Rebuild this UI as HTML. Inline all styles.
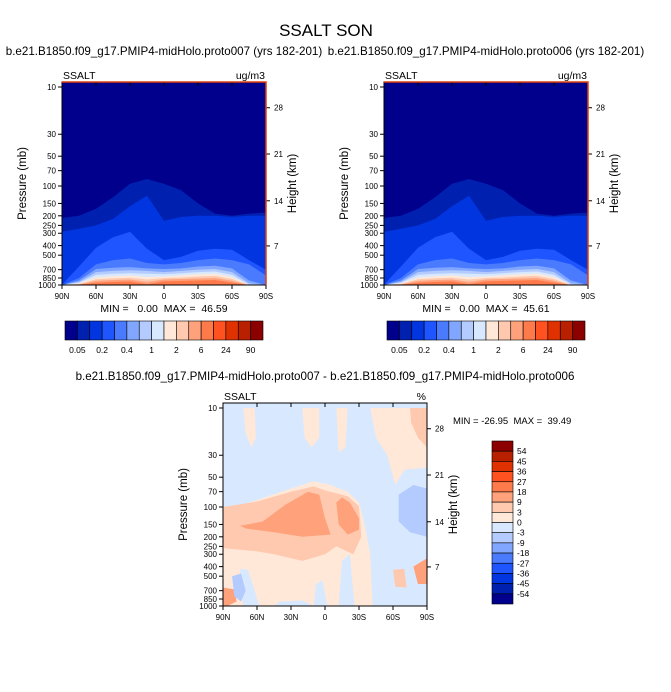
<!DOCTYPE html>
<html><head><meta charset="utf-8"><style>
body{margin:0;background:#fff;}
svg{display:block;font-family:"Liberation Sans",Arial,sans-serif;}
.pre{white-space:pre;}
</style></head><body>
<svg id="c" width="671" height="692" viewBox="0 0 671 692" xmlns="http://www.w3.org/2000/svg">
<text x="326" y="36" font-size="17" text-anchor="middle">SSALT SON</text>
<text x="164" y="55" font-size="11.6" text-anchor="middle">b.e21.B1850.f09_g17.PMIP4-midHolo.proto007 (yrs 182-201)</text>
<text x="486" y="55" font-size="11.6" text-anchor="middle">b.e21.B1850.f09_g17.PMIP4-midHolo.proto006 (yrs 182-201)</text>
<text x="325" y="380" font-size="11.6" text-anchor="middle">b.e21.B1850.f09_g17.PMIP4-midHolo.proto007 - b.e21.B1850.f09_g17.PMIP4-midHolo.proto006</text>
</svg>
<script>
// ---- data ----
const lats = [90,75,60,45,30,15,0,-15,-30,-45,-60,-75,-90];
const latTicks = [90,60,30,0,-30,-60,-90];
const latTickLabels = ["90N","60N","30N","0","30S","60S","90S"];
const pTicks = [10,30,50,70,100,150,200,250,300,400,500,700,850,1000];
const hTickP = [16.2,47.5,141,403];
const hTickLabels = ["28","21","14","7"];
const seqColors = ["#00008c","#0020b0","#0035e0","#1e55ff","#4a7bff","#80a6ff","#b4cbff","#d8e9ff","#ffe8d8","#ffc9b0","#ffa27c","#ff7a4a","#ff5220","#e03200","#b82000","#8c0000"];
const seqLabels = ["0.05","0.2","0.4","1","2","6","24","90"];
// contour level boundaries (pressure, mb) at each latitude, panel 1 (proto007)
const lev1 = [
 [210,200,170,130,95,85,95,110,150,190,200,190,185],
 [290,270,250,215,160,125,225,205,200,200,205,200,200],
 [990,650,420,330,290,430,560,520,450,430,440,560,700],
 [1000,850,620,560,540,600,620,600,560,540,560,620,800],
 [1000,900,690,670,660,680,690,680,650,640,680,900,1000],
 [1000,930,740,720,710,720,740,720,700,690,740,960,1000],
 [1000,950,790,770,760,770,780,760,740,730,790,990,1000],
 [1000,965,840,815,800,830,820,800,780,770,830,1000,1000],
 [1000,975,875,855,845,880,850,840,820,810,870,1000,1000],
 [1000,985,910,890,880,930,880,870,860,850,905,1000,1000],
 [1000,995,950,930,920,980,920,910,900,890,945,1000,1000]];
// panel 2 (proto006)
const lev2 = [
 [210,200,170,130,95,85,95,110,150,190,200,190,185],
 [290,270,250,215,160,125,225,205,200,200,205,200,200],
 [990,650,420,330,290,430,560,520,450,430,440,560,700],
 [1000,850,620,560,540,600,620,600,560,540,560,620,800],
 [1000,900,690,670,660,680,690,680,650,640,680,900,1000],
 [1000,930,740,720,710,720,740,720,700,690,740,960,1000],
 [1000,950,790,770,760,770,780,760,740,730,790,990,1000],
 [1000,965,840,815,800,830,820,800,780,770,830,1000,1000],
 [1000,975,875,855,845,880,850,840,820,810,870,1000,1000],
 [1000,985,910,890,880,930,880,870,860,850,905,1000,1000],
 [1000,995,950,930,920,980,920,910,900,890,945,1000,1000]];
const divColors = ["#8c0000","#b82000","#e03200","#ff5220","#ff7a4a","#ffa27c","#ffc9b0","#ffe8d8","#d8e9ff","#b4cbff","#80a6ff","#4a7bff","#1e55ff","#0035e0","#0020b0","#00008c"];
const divLabels = ["54","45","36","27","18","9","3","0","-3","-9","-18","-27","-36","-45","-54"];
// difference regions: [colorIndex(in divColors), [lat,p,...]]
const diffRegions = [
 [7,[90,110,60,85,30,65,10,55,-5,60,-20,70,-30,90,-35,150,-40,300,-42,1000,90,1000]],
 [7,[72,10,62,10,61,20,65,25,70,18]],
 [7,[20,10,5,10,5,20,12,25,18,20]],
 [7,[-10,10,-20,10,-18,25,-12,28]],
 [7,[-40,10,-90,10,-90,40,-70,42,-62,60,-55,30,-45,20]],
 [6,[-75,10,-90,10,-90,25,-82,20,-76,14]],
 [6,[90,100,60,88,30,70,10,62,0,68,-20,78,-30,98,-32,200,-25,300,-10,250,0,300,20,350,45,300,60,280,90,260]],
 [5,[75,155,55,140,35,95,15,70,5,75,0,130,-5,190,20,200,45,180,70,165]],
 [5,[-10,90,-15,80,-22,90,-30,130,-30,170,-20,190,-12,150]],
 [5,[90,650,80,680,78,900,86,1000,90,1000]],
 [8,[75,420,68,430,62,700,58,1000,72,1000,74,700]],
 [9,[82,500,74,470,70,700,74,900,80,800]],
 [8,[-15,350,-22,300,-26,1000,-12,1000]],
 [8,[8,600,2,550,-2,1000,10,1000]],
 [8,[40,900,20,880,10,1000,45,1000]],
 [9,[-65,75,-78,60,-90,65,-90,200,-75,180,-65,140]],
 [5,[-78,400,-90,330,-90,600,-82,600]],
 [6,[-60,430,-70,420,-72,650,-62,640]]];
const diffStats = "MIN = -26.95  MAX =  39.49";
// ---- drawing ----
const svg = document.getElementById('c');
const NS = "http://www.w3.org/2000/svg";
function mk(tag, attrs, parent){const e=document.createElementNS(NS,tag);for(const k in attrs)e.setAttribute(k,attrs[k]);(parent||svg).appendChild(e);return e;}
function axes(x0, top, y10, y1000){
  return {x: lat => x0 + (90-lat)/180*204, y: p => y10 + (Math.log10(p)-1)/2*(y1000-y10), top: top, bot: y1000, x0: x0, x1: x0+204};
}
function frame(A, g, label, units, red){
  for(let i=0;i<pTicks.length;i++){
    const y=A.y(pTicks[i]);
    const t=mk('line',{x1:A.x0-4,x2:A.x0,y1:y,y2:y,stroke:'#000','stroke-width':1},g);
    
    
    const l=mk('text',{x:A.x0-6,y:y+3,'font-size':8,'text-anchor':'end'},g);
    l.textContent=pTicks[i];
    
    
  }
  for(let i=0;i<latTicks.length;i++){
    const x=A.x(latTicks[i]);
    mk('line',{x1:x,x2:x,y1:A.bot,y2:A.bot+4,stroke:'#000'},g);
    mk('line',{x1:x,x2:x,y1:A.top,y2:A.top+4,stroke:'#000'},g);
    const l=mk('text',{x:x,y:A.bot+14,'font-size':8,'text-anchor':'middle'},g);
    l.textContent=latTickLabels[i];
    
    
  }
  for(let i=0;i<hTickP.length;i++){
    const y=A.y(hTickP[i]);
    mk('line',{x1:A.x1,x2:A.x1+4,y1:y,y2:y,stroke:'#000'},g);
    const l=mk('text',{x:A.x1+8,y:y+3,'font-size':8},g);
    l.textContent=hTickLabels[i];
    
    
  }
  const r=mk('rect',{x:A.x0,y:A.top,width:204,height:A.bot-A.top,fill:'none',stroke:'#000','stroke-width':1},g);
  
  
  if(red){
    mk('polyline',{points:`${A.x0},${A.top} ${A.x1},${A.top} ${A.x1},${A.bot}`,fill:'none',stroke:'#e0400a','stroke-width':1.5},g);
  }
  const yl=mk('text',{x:0,y:0,'font-size':11.5,'text-anchor':'middle',transform:`translate(${A.x0-36},${(A.top+A.bot)/2}) rotate(-90)`},g);
  yl.textContent='Pressure (mb)';
  
  
  const hl=mk('text',{x:0,y:0,'font-size':11.5,'text-anchor':'middle',transform:`translate(${A.x1+30},${(A.top+A.bot)/2}) rotate(-90)`},g);
  hl.textContent='Height (km)';
  
  
  const a=mk('text',{x:A.x0+1,y:A.top-3,'font-size':10.5},g);
  a.textContent=label;
  
  
  const u=mk('text',{x:A.x1-1,y:A.top-3,'font-size':10.5,'text-anchor':'end'},g);
  u.textContent=units;
  
  
}
function seqPanel(x0, levels, stats, name){
  const g=mk('g',{});
  
  
  const A=axes(x0,82,87,285);
  mk('clipPath',{id:'cp'+x0},g);
  const cp=g.lastChild; mk('rect',{x:A.x0,y:A.top,width:204,height:A.bot-A.top},cp);
  const bg=mk('rect',{x:A.x0,y:A.top,width:204,height:A.bot-A.top,fill:seqColors[0]},g);
  
  
  for(let k=0;k<levels.length;k++){
    let pts=levels[k].map((p,i)=>`${A.x(lats[i]).toFixed(1)},${A.y(p).toFixed(1)}`);
    pts.push(`${A.x1},${A.bot+1}`,`${A.x0},${A.bot+1}`);
    const pg=mk('polygon',{points:pts.join(' '),fill:seqColors[k+1],'clip-path':`url(#cp${x0})`},g);
    
    
  }
  frame(A,g,'SSALT','ug/m3',true);
  const s=mk('text',{x:x0+102,y:312,'font-size':10.5,'text-anchor':'middle','class':'pre'},g);
  s.textContent=stats;
  
  
  const cx0=x0+3, cw=198/16;
  for(let i=0;i<16;i++){
    const b=mk('rect',{x:cx0+i*cw,y:321,width:cw,height:19,fill:seqColors[i],stroke:'#000','stroke-width':0.6},g);
    
    
  }
  for(let i=0;i<seqLabels.length;i++){
    const l=mk('text',{x:cx0+(2*i+1)*cw,y:353,'font-size':8.5,'text-anchor':'middle'},g);
    l.textContent=seqLabels[i];
    
    
  }
}
seqPanel(62, lev1, "MIN =   0.00  MAX =  46.59", 'proto007-panel');
seqPanel(384, lev2, "MIN =   0.00  MAX =  45.61", 'proto006-panel');
// difference panel
(function(){
  const g=mk('g',{});
  
  
  const A=axes(223,403,408,606);
  mk('clipPath',{id:'cpd'},g);
  mk('rect',{x:A.x0,y:A.top,width:204,height:A.bot-A.top},g.lastChild);
  const bg=mk('rect',{x:A.x0,y:A.top,width:204,height:A.bot-A.top,fill:divColors[8]},g);
  
  
  for(const [ci,arr] of diffRegions){
    const pts=[];
    for(let i=0;i<arr.length;i+=2)pts.push(`${A.x(arr[i]).toFixed(1)},${A.y(Math.max(arr[i+1],8)).toFixed(1)}`);
    const pg=mk('polygon',{points:pts.join(' '),fill:divColors[ci],'clip-path':'url(#cpd)'},g);
    
    
  }
  frame(A,g,'SSALT','%',false);
  const s=mk('text',{x:453,y:424,'font-size':9.5,'class':'pre'},g);
  s.textContent=diffStats;
  
  
  const ch=163/16;
  for(let i=0;i<16;i++){
    const b=mk('rect',{x:492,y:441+i*ch,width:21,height:ch,fill:divColors[i],stroke:'#000','stroke-width':0.6},g);
    
    
  }
  for(let i=0;i<divLabels.length;i++){
    const l=mk('text',{x:517,y:441+(i+1)*ch+3,'font-size':8.5},g);
    l.textContent=divLabels[i];
    
    
  }
})();
</script>
</body></html>
